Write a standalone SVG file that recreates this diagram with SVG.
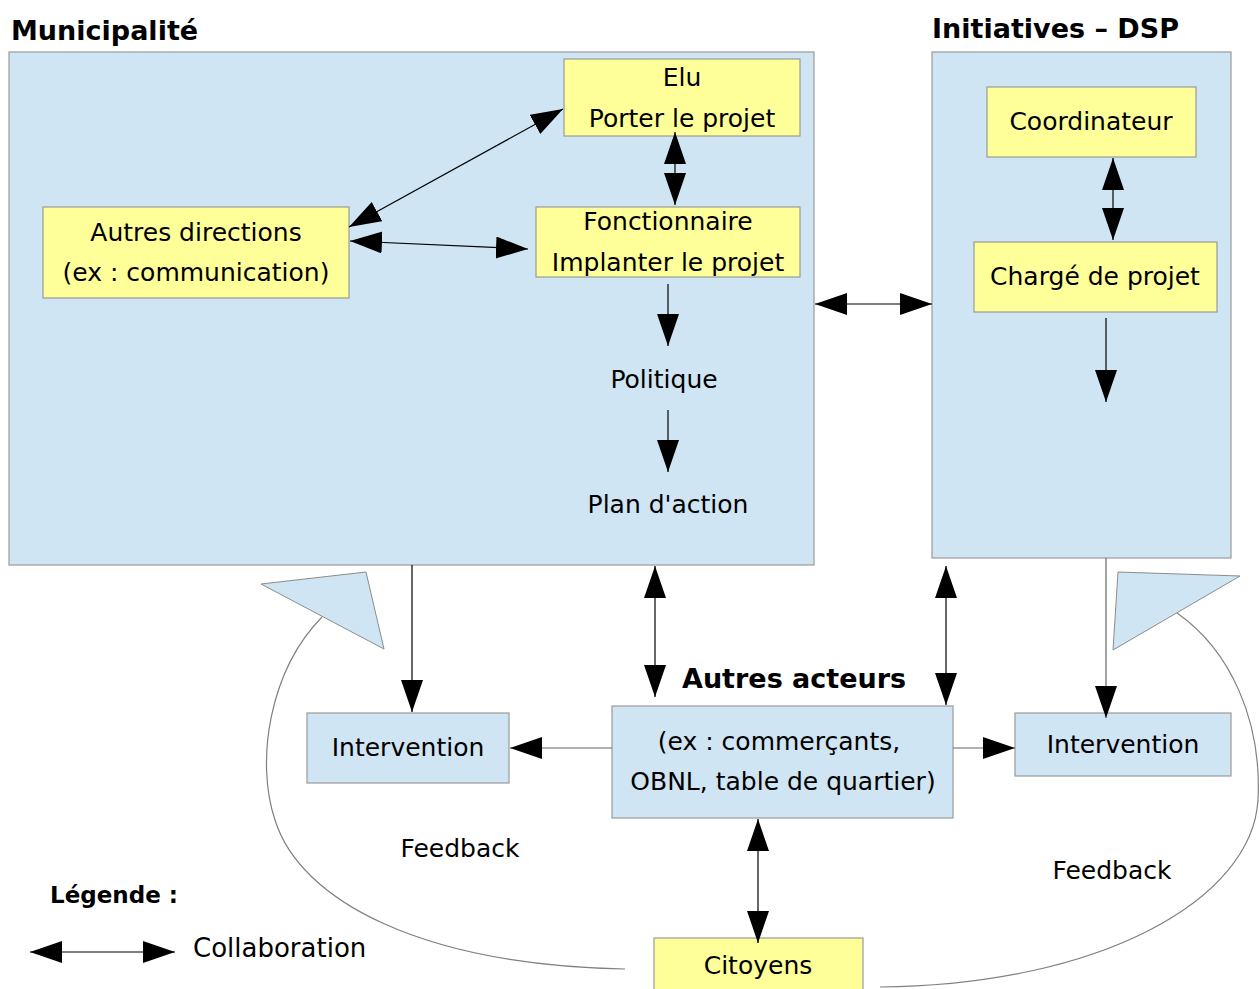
<svg xmlns="http://www.w3.org/2000/svg" width="1259" height="989" viewBox="0 0 1259 989">
<style>
  text { font-family: "DejaVu Sans", "Liberation Sans", sans-serif; fill: #000; }
  .t { font-size: 25px; text-anchor: middle; }
  .h { font-size: 27px; font-weight: bold; }
  .blue { fill: #cfe5f3; stroke: #9a9a9a; stroke-width: 1.2; }
  .yellow { fill: #ffff99; stroke: #9a9a9a; stroke-width: 1.2; }
  .ln { stroke: #000; stroke-width: 1.2; fill: none; }
  .lg { stroke: #666; stroke-width: 1.2; fill: none; }
  .fb { stroke: #808080; stroke-width: 1.2; fill: none; }
  .tri { fill: #cfe5f3; stroke: #8c8c8c; stroke-width: 1; }
</style>
<defs>
  <marker id="ah" markerUnits="userSpaceOnUse" markerWidth="34" markerHeight="24" refX="32" refY="11" orient="auto-start-reverse">
    <path d="M0,0 L32,11 L0,22 z" fill="#000"/>
  </marker>
</defs>

<rect width="1259" height="989" fill="#fff"/>

<g id="municipalite">
  <text class="h" x="11" y="40">Municipalité</text>
  <rect class="blue" x="9" y="52" width="805" height="513"/>
</g>

<g id="initiatives">
  <text class="h" x="932" y="38">Initiatives – DSP</text>
  <rect class="blue" x="932" y="52" width="299" height="506"/>
</g>

<g id="elu">
  <rect class="yellow" x="564" y="59" width="236" height="77"/>
  <text class="t" x="682" y="86">Elu</text>
  <text class="t" x="682" y="127">Porter le projet</text>
</g>

<g id="fonctionnaire">
  <rect class="yellow" x="536" y="207" width="264" height="70"/>
  <text class="t" x="668" y="230">Fonctionnaire</text>
  <text class="t" x="668" y="271">Implanter le projet</text>
</g>

<g id="autres-directions">
  <rect class="yellow" x="43" y="207" width="306" height="91"/>
  <text class="t" x="196" y="241">Autres directions</text>
  <text class="t" x="196" y="281">(ex : communication)</text>
</g>

<g id="politique">
  <text class="t" x="664" y="388">Politique</text>
</g>

<g id="plan-action">
  <text class="t" x="668" y="513">Plan d'action</text>
</g>

<g id="coordinateur">
  <rect class="yellow" x="987" y="87" width="209" height="70"/>
  <text class="t" x="1091" y="130">Coordinateur</text>
</g>

<g id="charge-projet">
  <rect class="yellow" x="974" y="242" width="243" height="70"/>
  <text class="t" x="1095" y="285">Chargé de projet</text>
</g>

<g id="intervention-gauche">
  <rect class="blue" x="307" y="713" width="202" height="70"/>
  <text class="t" x="408" y="756">Intervention</text>
</g>

<g id="autres-acteurs">
  <text class="h" x="682" y="688">Autres acteurs</text>
  <rect class="blue" x="612" y="706" width="341" height="112"/>
  <text class="t" x="779" y="750">(ex : commerçants,</text>
  <text class="t" x="783" y="790">OBNL, table de quartier)</text>
</g>

<g id="intervention-droite">
  <rect class="blue" x="1015" y="713" width="216" height="63"/>
  <text class="t" x="1123" y="753">Intervention</text>
</g>

<g id="citoyens">
  <rect class="yellow" x="654" y="938" width="209" height="60"/>
  <text class="t" x="758" y="974">Citoyens</text>
</g>

<g id="feedback-gauche">
  <path class="fb" d="M 322 617 C 270 670, 255 760, 275 820 C 300 900, 420 965, 625 969"/>
  <polygon class="tri" points="261,584 366,572 384,649"/>
  <text class="t" x="460" y="857">Feedback</text>
</g>

<g id="feedback-droite">
  <path class="fb" d="M 1177 613 C 1230 650, 1262 720, 1258 800 C 1252 900, 1100 985, 880 987"/>
  <polygon class="tri" points="1118,572 1240,576 1113,650"/>
  <text class="t" x="1112" y="879">Feedback</text>
</g>

<g id="legende">
  <text class="h" x="50" y="903" style="font-size:23px">Légende :</text>
  <line class="ln" x1="30" y1="952" x2="175" y2="952" marker-start="url(#ah)" marker-end="url(#ah)"/>
  <text x="193" y="957" style="font-size:26px">Collaboration</text>
</g>

<g id="connectors">
  <line class="ln" x1="563" y1="109" x2="349" y2="227" marker-start="url(#ah)" marker-end="url(#ah)"/>
  <line class="ln" x1="350" y1="241" x2="528" y2="249" marker-start="url(#ah)" marker-end="url(#ah)"/>
  <line class="ln" x1="675" y1="132" x2="675" y2="205" marker-start="url(#ah)" marker-end="url(#ah)"/>
  <line class="ln" x1="668" y1="284" x2="668" y2="346" marker-end="url(#ah)"/>
  <line class="ln" x1="668" y1="410" x2="668" y2="472" marker-end="url(#ah)"/>
  <line class="ln" x1="815" y1="304" x2="932" y2="304" marker-start="url(#ah)" marker-end="url(#ah)"/>
  <line class="ln" x1="1113" y1="158" x2="1113" y2="240" marker-start="url(#ah)" marker-end="url(#ah)"/>
  <line class="ln" x1="1106" y1="318" x2="1106" y2="402" marker-end="url(#ah)"/>
  <line class="ln" x1="412" y1="565" x2="412" y2="712" marker-end="url(#ah)"/>
  <line class="lg" x1="612" y1="748" x2="510" y2="748" marker-end="url(#ah)"/>
  <line class="ln" x1="655" y1="566" x2="655" y2="697" marker-start="url(#ah)" marker-end="url(#ah)"/>
  <line class="ln" x1="946" y1="566" x2="946" y2="705" marker-start="url(#ah)" marker-end="url(#ah)"/>
  <line class="lg" x1="953" y1="748" x2="1015" y2="748" marker-end="url(#ah)"/>
  <line class="lg" x1="1106" y1="558" x2="1106" y2="718" marker-end="url(#ah)"/>
  <line class="ln" x1="758" y1="819" x2="758" y2="943" marker-start="url(#ah)" marker-end="url(#ah)"/>
</g>
</svg>
